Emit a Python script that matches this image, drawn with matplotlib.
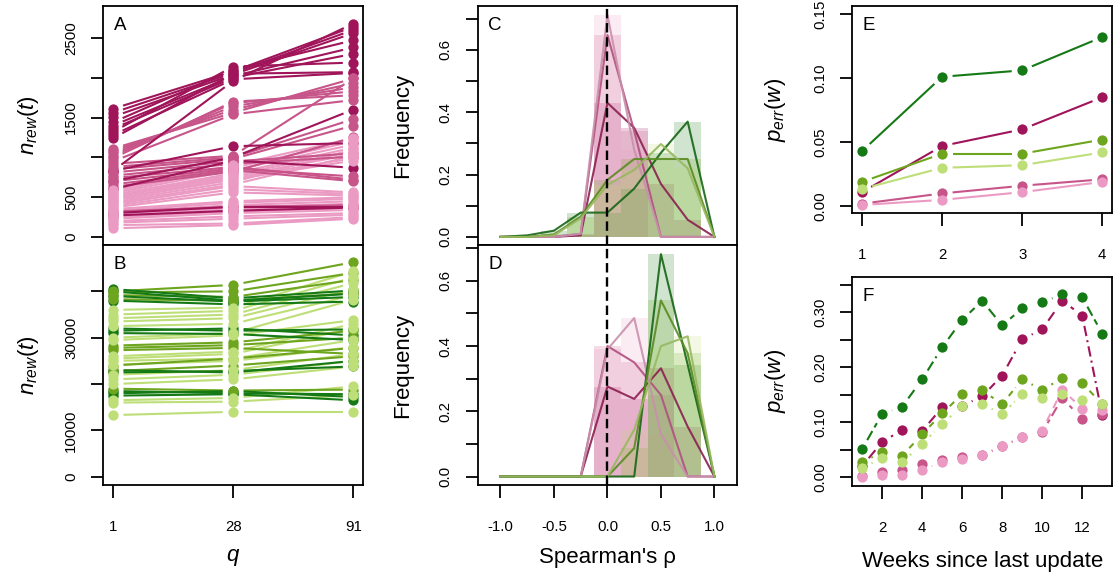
import numpy as np
import matplotlib
matplotlib.use("Agg")
import matplotlib.pyplot as plt

plt.rcParams["font.family"] = ["Liberation Sans", "DejaVu Sans"]
plt.rcParams["mathtext.fontset"] = "custom"
plt.rcParams["mathtext.rm"] = "Liberation Sans"
plt.rcParams["mathtext.it"] = "Liberation Sans:italic"
plt.rcParams["axes.unicode_minus"] = False

# dark, medium, light
PINK = ["#A0145A", "#C8558A", "#EB9BC3"]
GREEN = ["#157A15", "#6EA51E", "#BEDE78"]
# muted outline colours for the frequency polygons
PINK_LINE = ["#8A2050", "#B0507E", "#C890AC"]
GREEN_LINE = ["#166616", "#5A8C22", "#98B860"]

q_pos = [1, 2, 3]
q_labels = ["1", "28", "91"]

# panel A: n_rew at q = 1, 28, 91 (one row per individual)
a_dark = [
    [1610, 2080, 2640], [1560, 2060, 2600], [1510, 2040, 2560],
    [1440, 2100, 2470], [1400, 2020, 2380], [1360, 2000, 2300],
    [1320, 2140, 2190], [1280, 1980, 2060], [1240, 2050, 2070],
    [830, 1960, 2680], [830, 1140, 1180], [700, 1000, 1600],
    [600, 960, 870], [300, 380, 380], [270, 330, 370],
]
a_mid = [
    [1110, 1560, 1990], [1080, 1600, 1930], [1050, 1640, 1880],
    [1020, 1680, 1830], [990, 1700, 1780], [950, 1540, 1720],
    [920, 1020, 1990], [880, 1000, 1480], [850, 980, 1400],
    [810, 950, 1050], [770, 920, 1010], [740, 880, 720],
    [700, 860, 760], [660, 840, 700], [630, 820, 1250], [320, 380, 400],
]
a_light = [
    [590, 900, 1240], [570, 870, 1200], [550, 840, 1160], [530, 800, 1120],
    [510, 780, 1080], [500, 760, 1040], [480, 740, 990], [470, 720, 960],
    [450, 690, 1100], [430, 660, 1020], [410, 640, 560], [390, 600, 540],
    [370, 560, 520], [350, 450, 500], [330, 430, 480], [310, 400, 450],
    [290, 370, 420], [270, 350, 390], [250, 320, 360], [230, 300, 340],
    [200, 260, 300], [180, 230, 280], [150, 170, 250], [110, 150, 230],
]

# panel B
b_dark = [
    [40500, 38500, 40200], [40000, 38000, 39500], [39000, 37800, 38800],
    [38000, 37200, 37800], [32000, 31500, 31800], [31500, 32000, 30500],
    [31000, 30800, 29500], [23000, 22500, 25000], [22500, 22800, 23800],
    [18500, 18000, 17800], [18000, 18500, 17200], [17500, 17800, 16500],
]
b_mid = [
    [40000, 41400, 46300], [39800, 40000, 44000], [39200, 38800, 42500],
    [38300, 38000, 39600], [28300, 29000, 31500], [27800, 28400, 30000],
    [27300, 27800, 26500], [24000, 25500, 27800], [22800, 24000, 26000],
    [19000, 18600, 18800],
]
b_light = [
    [36000, 36500, 44300], [35000, 35800, 43000], [34200, 35000, 41800],
    [33500, 34200, 40500], [32500, 33000, 39200], [30000, 31000, 38200],
    [29500, 30500, 33800], [26000, 27000, 33000], [25500, 26500, 32000],
    [25000, 25500, 29500], [24200, 25000, 28000], [22000, 23000, 26500],
    [21000, 22000, 25000], [20000, 21000, 23800], [16500, 17000, 19500],
    [16000, 16200, 17600], [13300, 14000, 14000],
]

# panels C, D: frequency of Spearman's rho per bin
rho_bins = [-1.0, -0.75, -0.5, -0.25, 0.0, 0.25, 0.5, 0.75, 1.0]
c_pink = [
    [0, 0, 0, 0.005, 0.43, 0.35, 0.17, 0.055, 0],
    [0, 0, 0, 0.01, 0.648, 0.34, 0, 0, 0],
    [0, 0, 0, 0.01, 0.712, 0.28, 0, 0, 0],
]
c_green = [
    [0, 0.005, 0.02, 0.078, 0.078, 0.155, 0.27, 0.37, 0],
    [0, 0, 0.008, 0.065, 0.183, 0.25, 0.25, 0.25, 0],
    [0, 0, 0.005, 0.06, 0.167, 0.215, 0.298, 0.22, 0],
]
d_pink = [
    [0, 0, 0, 0, 0.276, 0.238, 0.332, 0.153, 0],
    [0, 0, 0, 0, 0.40, 0.35, 0.25, 0, 0],
    [0, 0, 0, 0, 0.39, 0.486, 0.13, 0, 0],
]
d_green = [
    [0, 0, 0, 0, 0, 0, 0.682, 0.343, 0],
    [0, 0, 0, 0, 0, 0.087, 0.54, 0.378, 0],
    [0, 0, 0, 0, 0, 0.143, 0.40, 0.43, 0],
]

# panel E
weeks_e = [1, 2, 3, 4]
e_pink = [
    [0.011, 0.047, 0.060, 0.085],
    [0.002, 0.010, 0.016, 0.021],
    [0.001, 0.005, 0.011, 0.019],
]
e_green = [
    [0.043, 0.101, 0.106, 0.132],
    [0.019, 0.041, 0.041, 0.052],
    [0.0135, 0.030, 0.032, 0.042],
]

# panel F
weeks_f = list(range(1, 14))
f_pink = [
    [0.020, 0.064, 0.086, 0.084, 0.127, 0.130, 0.147, 0.185, 0.251, 0.269, 0.321, 0.294, 0.113],
    [0.003, 0.009, 0.013, 0.024, 0.031, 0.036, 0.040, 0.056, 0.073, 0.082, 0.144, 0.106, 0.115],
    [0.001, 0.005, 0.004, 0.013, 0.028, 0.033, 0.041, 0.057, 0.073, 0.085, 0.159, 0.125, 0.122],
]
f_green = [
    [0.051, 0.115, 0.128, 0.178, 0.236, 0.286, 0.321, 0.276, 0.307, 0.318, 0.333, 0.327, 0.261],
    [0.027, 0.046, 0.039, 0.078, 0.116, 0.151, 0.158, 0.133, 0.178, 0.159, 0.180, 0.171, 0.133],
    [0.017, 0.035, 0.027, 0.061, 0.096, 0.130, 0.133, 0.115, 0.151, 0.144, 0.151, 0.141, 0.133],
]
f_ls_pink = [(0, (5, 2, 1, 2)), (0, (2, 2, 5, 2)), (0, (4, 3))]
f_ls_green = [(0, (5, 2)), (0, (3, 2)), (0, (1, 2))]

GAP = 10.5   # px left blank around each point (type "b" lines)
MS = 7.4


def gap_lines(ax, x, y, color, lw=1.5, ls="-", z=2):
    pts = ax.transData.transform(np.column_stack([x, y]))
    inv = ax.transData.inverted()
    for p0, p1 in zip(pts[:-1], pts[1:]):
        d = p1 - p0
        L = np.hypot(*d)
        if L <= 2 * GAP:
            continue
        u = d / L
        seg = inv.transform(np.array([p0 + u * GAP, p1 - u * GAP]))
        ax.plot(seg[:, 0], seg[:, 1], color=color, lw=lw, ls=ls,
                solid_capstyle="butt", dash_capstyle="butt", zorder=z)


def dots(ax, x, y, color, z=3):
    ax.plot(x, y, "o", color=color, ms=MS, mec="none", zorder=z)


def style(ax):
    for sp in ax.spines.values():
        sp.set_linewidth(1.3)
    ax.tick_params(length=9, width=1.3, labelsize=10.8, direction="out")
    ax.tick_params(axis="y", pad=9.2, labelrotation=90)
    ax.tick_params(axis="x", pad=16.2)


def letter(ax, s):
    ax.annotate(s, xy=(0, 1), xycoords="axes fraction", xytext=(7.5, -8.2),
                textcoords="offset points", ha="left", va="top", fontsize=13.5)


def yticks(ax, ticks, labels):
    ax.set_yticks(ticks)
    ax.set_yticklabels(labels)
    plt.setp(ax.get_yticklabels(), va="center")


W, H = 1113, 576
fig = plt.figure(figsize=(W / 100, H / 100), dpi=100)


def panel(left, top, bottom, width=259.5):
    return fig.add_axes([left / W, 1 - bottom / H, width / W, (bottom - top) / H])


axA = panel(103.4, 6, 245)
axB = panel(103.4, 245, 485)
axC = panel(477.7, 6, 245)
axD = panel(477.7, 245, 485)
axE = panel(852.4, 6, 213.3)
axF = panel(852.4, 276.7, 485.7)
for ax in (axA, axB, axC, axD, axE, axF):
    style(ax)

# --- A / B: individual trajectories over q
axA.set_xlim(0.92, 3.08)
axA.set_ylim(-100, 2900)
axB.set_xlim(0.92, 3.08)
axB.set_ylim(-1790, 50010)
for ax, groups, cols in ((axA, [a_light, a_mid, a_dark], PINK[::-1]),
                         (axB, [b_light, b_mid, b_dark], GREEN[::-1])):
    for rows, col in zip(groups, cols):
        for r in rows:
            gap_lines(ax, q_pos, r, col, lw=1.5)
    for i, (rows, col) in enumerate(zip(groups[::-1], cols[::-1])):
        for r in rows:
            dots(ax, q_pos, r, col, z=3 + i)

axA.set_xticks([])
yticks(axA, [0, 500, 1000, 1500, 2000, 2500], ["0", "500", "", "1500", "", "2500"])
axB.set_xticks(q_pos)
axB.set_xticklabels(q_labels)
yticks(axB, [0, 10000, 20000, 30000, 40000], ["0", "10000", "", "30000", ""])
for ax in (axA, axB):
    ax.set_ylabel(r"$n_{rew}(t)$", fontsize=16, va="center")
    ax.yaxis.set_label_coords(-0.288, 0.5)
axB.set_xlabel(r"$q$", fontsize=16, va="center")
axB.xaxis.set_label_coords(0.5, -0.304)
letter(axA, "A")
letter(axB, "B")

# --- C / D: histograms + frequency polygons of rho
for ax, pinks, greens, top in ((axC, c_pink, c_green, 0.741),
                               (axD, d_pink, d_green, 0.710)):
    ax.set_xlim(-1.213, 1.213)
    ax.set_ylim(-0.026, top)
    for rows, fills, lines in ((pinks, PINK, PINK_LINE), (greens, GREEN, GREEN_LINE)):
        for vals, col in zip(rows, fills):
            ax.bar(rho_bins, vals, width=0.25, color=col, alpha=0.2, linewidth=0, zorder=1)
        for vals, col in zip(rows, lines):
            ax.plot(rho_bins, vals, color=col, lw=1.5, alpha=0.9, zorder=2)
    ax.axvline(0, color="black", lw=1.7, ls=(0, (4, 2)), zorder=10)
    ax.set_ylabel("Frequency", fontsize=16, va="center")
    ax.yaxis.set_label_coords(-0.288, 0.5)
    yticks(ax, np.arange(0, 0.75, 0.1).round(1),
           ["0.0", "", "0.2", "", "0.4", "", "0.6", ""])
axC.set_xticks([])
axD.set_xticks([-1, -0.5, 0, 0.5, 1])
axD.set_xticklabels(["-1.0", "-0.5", "0.0", "0.5", "1.0"])
axD.set_xlabel("Spearman's ρ", fontsize=16, va="center")
axD.xaxis.set_label_coords(0.5, -0.304)
letter(axC, "C")
letter(axD, "D")

# --- E / F: error probability by weeks since update
axE.set_xlim(0.88, 4.12)
axE.set_ylim(-0.0055, 0.1562)
axF.set_xlim(0.52, 13.48)
axF.set_ylim(-0.0153, 0.3647)
z = 2
for rows, cols in ((e_pink, PINK), (e_green, GREEN)):
    for vals, col in zip(rows, cols):
        gap_lines(axE, weeks_e, vals, col, lw=1.5, z=z)
        dots(axE, weeks_e, vals, col, z=z + 0.5)
        z += 1
z = 2
for rows, cols, styles in ((f_pink, PINK, f_ls_pink), (f_green, GREEN, f_ls_green)):
    for vals, col, ls in zip(rows, cols, styles):
        gap_lines(axF, weeks_f, vals, col, lw=1.5, ls=ls, z=z)
        dots(axF, weeks_f, vals, col, z=z + 0.5)
        z += 1

axE.set_xticks(weeks_e)
axE.set_xticklabels([str(w) for w in weeks_e])
yticks(axE, [0, 0.05, 0.10, 0.15], ["0.00", "0.05", "0.10", "0.15"])
axF.set_xticks([2, 4, 6, 8, 10, 12])
axF.set_xticklabels(["2", "4", "6", "8", "10", "12"])
yticks(axF, np.arange(0, 0.36, 0.05).round(2),
       ["0.00", "", "0.10", "", "0.20", "", "0.30", ""])
for ax in (axE, axF):
    ax.set_ylabel(r"$p_{err}(w)$", fontsize=16, va="center")
    ax.yaxis.set_label_coords(-0.296, 0.5)
axF.set_xlabel("Weeks since last update", fontsize=16, va="center")
axF.xaxis.set_label_coords(0.5, -0.364)
letter(axE, "E")
letter(axF, "F")

fig.savefig("out.png", dpi=100)
